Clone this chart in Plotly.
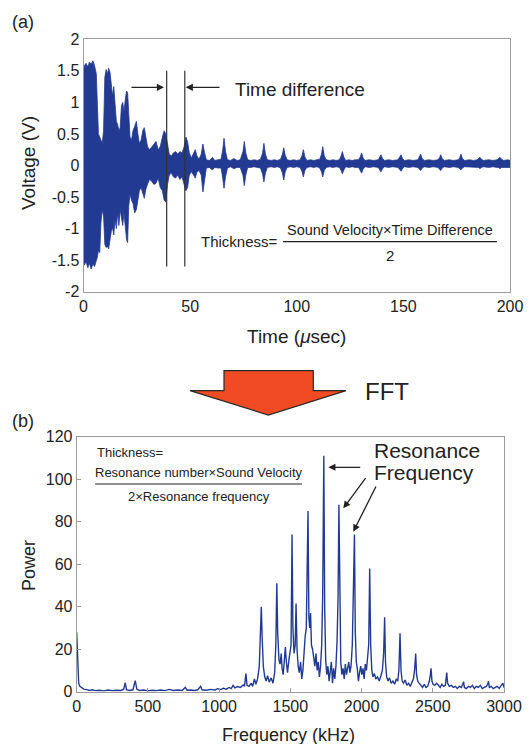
import plotly.graph_objects as go

W, H = 531, 744

# ---------------- (a) waveform envelope ----------------
wave_t = [0.0, 0.4, 1.2, 2.0, 2.8, 3.6, 4.4, 5.2, 6.0, 6.5, 7.0, 7.6, 8.2, 8.8, 9.4,
          10.0, 10.6, 11.2, 11.8, 12.4, 13.0, 13.6, 14.2, 14.8, 15.4, 16.0, 16.6, 17.2,
          17.8, 18.4, 19.0, 19.6, 20.2, 20.7, 21.2, 21.8, 22.5, 23.2, 24.0, 24.8, 25.5,
          26.2, 27.0, 27.8, 28.5, 29.2, 30.0, 31.0, 32.0, 33.0, 34.0, 35.0, 36.0, 37.0,
          37.8, 38.6, 39.4, 40.2, 41.2, 42.2, 43.2, 44.2, 45.2, 46.2, 47.2, 48.0, 48.8,
          49.6, 50.6, 51.6, 52.4, 53.2, 54.2, 55.2, 56.0, 56.8, 57.6, 59.0, 60.5, 61.5,
          63.0, 64.5, 65.3, 65.9, 66.6, 67.5, 69.0, 70.5, 72.0, 73.5, 74.8, 75.4, 76.1,
          77.0, 78.5, 80.0, 81.5, 83.0, 84.0, 84.6, 85.3, 86.2, 88.0, 89.5, 91.0, 92.4,
          93.3, 93.9, 94.6, 95.5, 97.0, 98.5, 100.0, 101.6, 102.5, 103.1, 103.8, 104.7,
          106.5, 108.0, 109.5, 110.8, 111.6, 112.2, 112.9, 113.8, 115.5, 117.0, 118.5,
          120.0, 120.8, 121.4, 122.1, 123.0, 124.5, 126.0, 127.5, 129.0, 129.8, 130.4,
          131.1, 132.0, 134.0, 136.0, 138.2, 138.9, 139.5, 140.2, 141.2, 143.0, 145.0,
          147.5, 148.3, 148.9, 149.6, 150.5, 152.5, 154.5, 156.8, 157.5, 158.1, 158.8,
          159.8, 162.0, 164.0, 166.2, 166.9, 167.5, 168.2, 169.2, 171.5, 173.5, 175.7,
          176.4, 177.0, 177.7, 178.7, 181.0, 183.0, 184.6, 185.3, 185.9, 186.6, 187.6,
          190.0, 192.0, 194.0, 194.7, 195.3, 196.0, 197.0, 199.0, 200.0]
wave_upper = [1.50, 1.58, 1.62, 1.56, 1.64, 1.60, 1.66, 1.58, 1.45, 0.80, 0.50, 0.45, 0.40, 0.35, 0.55,
              1.40, 1.52, 1.45, 1.54, 1.48, 1.30, 1.10, 1.25, 0.90, 0.70, 0.65, 0.55, 0.60,
              0.95, 1.00, 0.85, 1.05, 1.18, 1.15, 0.70, 0.45, 0.40, 0.55, 0.62, 0.70, 0.50,
              0.35, 0.40, 0.55, 0.60, 0.45, 0.30, 0.25, 0.30, 0.35, 0.38, 0.25, 0.30, 0.45,
              0.55, 0.50, 0.35, 0.18, 0.15, 0.20, 0.22, 0.18, 0.22, 0.20, 0.30, 0.45, 0.38,
              0.20, 0.12, 0.20, 0.25, 0.15, 0.10, 0.18, 0.34, 0.20, 0.09, 0.08, 0.13, 0.08,
              0.09, 0.10, 0.25, 0.43, 0.22, 0.09, 0.08, 0.11, 0.08, 0.09, 0.22, 0.38, 0.20,
              0.09, 0.08, 0.09, 0.08, 0.10, 0.20, 0.35, 0.18, 0.09, 0.08, 0.09, 0.08, 0.10,
              0.18, 0.28, 0.16, 0.09, 0.08, 0.09, 0.08, 0.09, 0.16, 0.25, 0.14, 0.08,
              0.09, 0.08, 0.09, 0.10, 0.18, 0.30, 0.15, 0.09, 0.08, 0.09, 0.08,
              0.09, 0.15, 0.22, 0.13, 0.08, 0.09, 0.08, 0.09, 0.09, 0.14, 0.20,
              0.12, 0.08, 0.09, 0.08, 0.09, 0.13, 0.17, 0.11, 0.08, 0.09, 0.08,
              0.09, 0.13, 0.17, 0.11, 0.08, 0.09, 0.08, 0.09, 0.13, 0.18, 0.11,
              0.08, 0.09, 0.08, 0.09, 0.12, 0.17, 0.11, 0.08, 0.09, 0.08, 0.09,
              0.12, 0.18, 0.11, 0.08, 0.09, 0.08, 0.09, 0.11, 0.13, 0.10, 0.08,
              0.09, 0.08, 0.09, 0.11, 0.13, 0.10, 0.08, 0.09, 0.08]
wave_lower = [-1.45, -1.58, -1.52, -1.62, -1.55, -1.64, -1.56, -1.60, -1.52, -1.45, -1.35, -1.38, -0.90, -0.70, -0.80,
              -1.25, -1.30, -1.28, -1.32, -1.20, -1.05, -0.98, -1.10, -0.85, -1.00, -0.75, -0.95, -0.70,
              -0.80, -0.95, -0.75, -1.00, -1.18, -1.22, -0.65, -0.45, -0.55, -0.60, -0.75, -0.70, -0.55,
              -0.40, -0.35, -0.45, -0.52, -0.38, -0.30, -0.22, -0.25, -0.30, -0.28, -0.20, -0.35, -0.40,
              -0.55, -0.58, -0.30, -0.15, -0.12, -0.18, -0.20, -0.15, -0.22, -0.18, -0.28, -0.40, -0.35,
              -0.15, -0.10, -0.15, -0.20, -0.10, -0.08, -0.15, -0.42, -0.25, -0.04, -0.03, -0.07, -0.03,
              -0.04, -0.04, -0.20, -0.36, -0.18, -0.04, -0.02, -0.05, -0.03, -0.03, -0.16, -0.32, -0.15,
              -0.03, -0.03, -0.02, -0.03, -0.04, -0.14, -0.26, -0.12, -0.03, -0.02, -0.03, -0.02, -0.04,
              -0.12, -0.23, -0.10, -0.03, -0.02, -0.03, -0.02, -0.03, -0.10, -0.18, -0.08, -0.03,
              -0.02, -0.03, -0.02, -0.04, -0.10, -0.18, -0.08, -0.03, -0.02, -0.03, -0.02,
              -0.03, -0.08, -0.13, -0.07, -0.02, -0.03, -0.02, -0.03, -0.03, -0.07, -0.12,
              -0.06, -0.02, -0.03, -0.02, -0.03, -0.06, -0.10, -0.05, -0.02, -0.03, -0.02,
              -0.03, -0.06, -0.09, -0.05, -0.02, -0.03, -0.02, -0.03, -0.05, -0.08, -0.04,
              -0.02, -0.03, -0.02, -0.03, -0.05, -0.08, -0.04, -0.02, -0.03, -0.02, -0.03,
              -0.05, -0.07, -0.04, -0.02, -0.03, -0.02, -0.03, -0.03, -0.05, -0.03, -0.02,
              -0.03, -0.02, -0.03, -0.03, -0.05, -0.03, -0.02, -0.03, -0.03]

time_ticks = [0, 50, 100, 150, 200]
volt_ticks = [-2, -1.5, -1, -0.5, 0, 0.5, 1, 1.5, 2]
volt_labels = ["-2", "-1.5", "-1", "-0.5", "0", "0.5", "1", "1.5", "2"]
marker_times = [39.0, 47.5]

# ---------------- (b) FFT spectrum ----------------
freq = [0, 4, 8, 14, 22, 35, 50, 70, 90, 110, 130, 160, 190, 220, 250, 280, 310, 330, 341, 350,
        370, 395, 411, 422, 440, 470, 500, 530, 560, 590, 620, 650, 680, 710, 740, 762, 775, 800,
        830, 850, 870, 880, 910, 940, 970, 990, 1010, 1030, 1050, 1070, 1085, 1098, 1110, 1130,
        1150, 1168, 1178, 1188, 1196, 1210, 1225, 1235, 1248, 1258, 1270, 1282, 1290, 1296, 1302,
        1310, 1320, 1330, 1340, 1352, 1365, 1378, 1390, 1398, 1405, 1411, 1420, 1428, 1436, 1442,
        1450, 1458, 1465, 1472, 1480, 1490, 1498, 1505, 1512, 1518, 1526, 1534, 1540, 1547, 1555,
        1563, 1572, 1580, 1588, 1596, 1604, 1612, 1618, 1624, 1630, 1636, 1642, 1648, 1656, 1664,
        1672, 1680, 1688, 1696, 1704, 1712, 1720, 1727, 1735, 1741, 1748, 1756, 1764, 1772, 1780,
        1788, 1796, 1804, 1812, 1820, 1828, 1835, 1841, 1847, 1854, 1862, 1870, 1878, 1886, 1894,
        1902, 1910, 1918, 1926, 1935, 1942, 1950, 1956, 1963, 1970, 1978, 1986, 1994, 2002, 2010,
        2018, 2026, 2034, 2042, 2050, 2057, 2064, 2072, 2080, 2090, 2100, 2112, 2124, 2136, 2146,
        2155, 2162, 2168, 2176, 2186, 2196, 2208, 2220, 2232, 2244, 2254, 2262, 2270, 2277, 2285,
        2295, 2306, 2318, 2330, 2342, 2354, 2364, 2372, 2380, 2386, 2394, 2404, 2416, 2428, 2440,
        2452, 2464, 2476, 2483, 2488, 2494, 2502, 2514, 2526, 2540, 2552, 2564, 2576, 2588, 2598,
        2604, 2616, 2630, 2644, 2658, 2672, 2686, 2700, 2710, 2716, 2722, 2736, 2750, 2764, 2778,
        2792, 2806, 2820, 2834, 2848, 2862, 2876, 2885, 2891, 2897, 2910, 2924, 2938, 2952, 2966,
        2980, 2992, 3000]
power = [28, 18, 8, 4, 2.5, 1.8, 1.2, 1.0, 0.6, 0.9, 0.5, 0.7, 0.4, 0.8, 0.5, 0.7, 0.6, 1.2, 4.2, 1.0,
         0.6, 0.9, 5.2, 1.2, 0.6, 0.8, 0.4, 0.7, 0.5, 0.8, 0.5, 1.1, 0.6, 0.8, 0.6, 2.0, 0.7, 0.8,
         0.6, 0.9, 2.5, 0.9, 0.7, 1.1, 0.8, 1.4, 1.0, 1.6, 1.2, 2.0, 1.5, 3.0, 1.8, 2.4,
         2.0, 3.2, 2.5, 8.5, 3.0, 2.5, 4.0, 2.5, 6.0, 3.5, 6.0, 12.0, 24.0, 40.0, 26.0,
         12.0, 7.0, 5.0, 7.5, 4.5, 6.5, 4.0, 9.0, 22.0, 51.0, 28.0, 15.0, 13.0, 18.0, 11.0,
         8.0, 17.0, 21.0, 14.0, 9.0, 15.0, 20.0, 22.0, 74.0, 30.0, 18.0, 22.0, 41.5, 20.0, 12.0,
         9.0, 14.0, 6.0, 10.0, 20.0, 26.0, 30.0, 50.0, 85.0, 35.0, 30.0, 37.0, 22.0, 20.0, 16.0,
         12.0, 18.0, 10.0, 14.0, 7.0, 12.0, 22.0, 45.0, 111.0, 40.0, 15.0, 8.0, 12.0, 5.0, 9.0,
         14.0, 4.0, 11.0, 6.0, 12.0, 24.0, 45.0, 88.0, 32.0, 14.0, 8.0, 11.0, 6.0, 13.0, 8.0,
         11.0, 14.0, 9.0, 12.0, 22.0, 40.0, 74.0, 28.0, 14.0, 11.0, 5.0, 9.0, 12.0, 8.0, 11.0,
         6.0, 13.0, 10.0, 15.0, 22.0, 58.0, 22.0, 10.0, 7.0, 8.5, 6.0, 7.0, 5.0, 7.5, 10.0,
         18.0, 35.0, 14.0, 7.0, 5.0, 6.5, 4.0, 5.0, 3.5, 6.0, 5.0, 10.0, 27.5, 10.0, 5.0,
         4.0, 5.5, 3.0, 4.0, 2.5, 4.5, 6.0, 10.0, 18.0, 8.0, 5.0, 4.0, 3.0, 2.0, 3.5,
         2.0, 2.5, 5.0, 8.0, 11.0, 5.0, 3.5, 3.0, 4.0, 3.0, 2.0, 3.5, 2.5, 3.0, 9.0,
         4.0, 2.5, 3.0, 2.0, 2.5, 1.5, 2.5, 2.0, 3.5, 4.7, 2.0, 1.5, 2.5, 2.0, 3.0,
         1.5, 2.5, 2.0, 3.0, 1.5, 2.0, 2.5, 3.5, 5.0, 2.0, 2.5, 1.5, 2.0, 2.5, 1.5,
         3.0, 4.0, 2.0]

freq_ticks = [0, 500, 1000, 1500, 2000, 2500, 3000]
power_ticks = [0, 20, 40, 60, 80, 100, 120]

# ---------------- styling ----------------
BLUE = "#233a92"
FONT = "Liberation Sans, Arial, Helvetica, sans-serif"
FRAME = "#9c9c9c"


def px(x):
    return x / W


def py(y):
    return 1 - y / H


fig = go.Figure()

# waveform as filled envelope
fig.add_trace(go.Scatter(
    x=wave_t + wave_t[::-1], y=wave_upper + wave_lower[::-1],
    fill="toself", fillcolor=BLUE, mode="lines",
    line=dict(color=BLUE, width=0.8), xaxis="x", yaxis="y", hoverinfo="skip"))

# spectrum
fig.add_trace(go.Scatter(
    x=freq, y=power, mode="lines", line=dict(color=BLUE, width=1.4),
    xaxis="x2", yaxis="y2", hoverinfo="skip"))

axis_common = dict(showgrid=False, zeroline=False, showline=True, mirror=True,
                   linecolor=FRAME, linewidth=1, tickfont=dict(family=FONT, size=16, color="#222"),
                   automargin=False)

fig.update_layout(
    width=W, height=H, margin=dict(l=0, r=0, t=0, b=0),
    paper_bgcolor="white", plot_bgcolor="white", showlegend=False,
    template="none",
    xaxis=dict(domain=[px(83.5), px(510)], range=[0, 200], tickvals=time_ticks,
               ticks="", anchor="y", **axis_common),
    yaxis=dict(domain=[py(291.7), py(39.3)], range=[-2, 2], tickvals=volt_ticks,
               ticktext=volt_labels, ticks="", anchor="x", **axis_common),
    xaxis2=dict(domain=[px(76.7), px(504)], range=[0, 3000], tickvals=freq_ticks,
                ticks="inside", ticklen=4, tickcolor=FRAME, anchor="y2", **axis_common),
    yaxis2=dict(domain=[py(691.7), py(436.7)], range=[0, 120], tickvals=power_ticks,
                ticks="inside", ticklen=4, tickcolor=FRAME, anchor="x2", **axis_common),
)

shapes = []
# vertical time markers
for tm in marker_times:
    shapes.append(dict(type="line", xref="x", yref="y", x0=tm, x1=tm, y0=-1.6, y1=1.5,
                       line=dict(color="#333", width=1.2)))
# fraction lines
shapes.append(dict(type="line", xref="paper", yref="paper", x0=px(283), x1=px(497),
                   y0=py(241.7), y1=py(241.7), line=dict(color="#222", width=1.2)))
shapes.append(dict(type="line", xref="paper", yref="paper", x0=px(95), x1=px(302),
                   y0=py(484), y1=py(484), line=dict(color="#222", width=1.2)))
# big FFT arrow
pts = [(190, 390.7), (224, 390.7), (224, 370.7), (313.3, 370.7), (313.3, 390.7), (346, 390.7), (268.3, 415)]
path = "M " + " L ".join(f"{px(a):.5f},{py(b):.5f}" for a, b in pts) + " Z"
shapes.append(dict(type="path", xref="paper", yref="paper", path=path,
                   fillcolor="#f04b23", line=dict(color="#2a2a2a", width=1.2)))
fig.update_layout(shapes=shapes)

ann = []


def text(t, x, y, size, xanchor="center", family=FONT, angle=0, color="#222"):
    ann.append(dict(text=t, x=px(x), y=py(y), xref="paper", yref="paper", showarrow=False,
                    xanchor=xanchor, yanchor="middle", textangle=angle,
                    font=dict(family=family, size=size, color=color)))


def arrow(hx, hy, tx, ty):
    ann.append(dict(text="", x=px(hx), y=py(hy), xref="paper", yref="paper", showarrow=True,
                    ax=tx - hx, ay=ty - hy, axref="pixel", ayref="pixel",
                    arrowhead=2, arrowsize=1.1, arrowwidth=1.3, arrowcolor="#222"))


text("(a)", 10, 22, 18, xanchor="left")
text("(b)", 10, 421, 18, xanchor="left")
text("Voltage (V)", 28, 163, 19, angle=-90)
text("Time (<i>μ</i>sec)", 296, 337, 19)
text("Power", 29, 566, 18, angle=-90)
text("Frequency (kHz)", 288, 735, 18)
text("Time difference", 233, 89, 19, xanchor="left")
arrow(164, 87.3, 130, 87.3)
arrow(185.7, 87.3, 221, 87.3)
text("Thickness=", 199, 241, 15, xanchor="left")
text("Sound Velocity×Time Difference", 390, 230, 14.5)
text("2", 390, 255, 15)
text("FFT", 363, 391, 24, xanchor="left")
text("Thickness=", 95, 452, 13, xanchor="left")
text("Resonance number×Sound Velocity", 198.5, 472, 13)
text("2×Resonance frequency", 198.5, 496, 13)
text("Resonance", 372, 450, 21, xanchor="left")
text("Frequency", 372, 472, 21, xanchor="left")
arrow(328.3, 467.3, 361.7, 467.3)
arrow(343.3, 508.3, 366.7, 476.7)
arrow(353.3, 531.7, 376.7, 485)
fig.update_layout(annotations=ann)

fig.write_html("out.html", config={"displayModeBar": False},
               post_script="document.body.style.margin='0';document.body.style.overflow='hidden';")
